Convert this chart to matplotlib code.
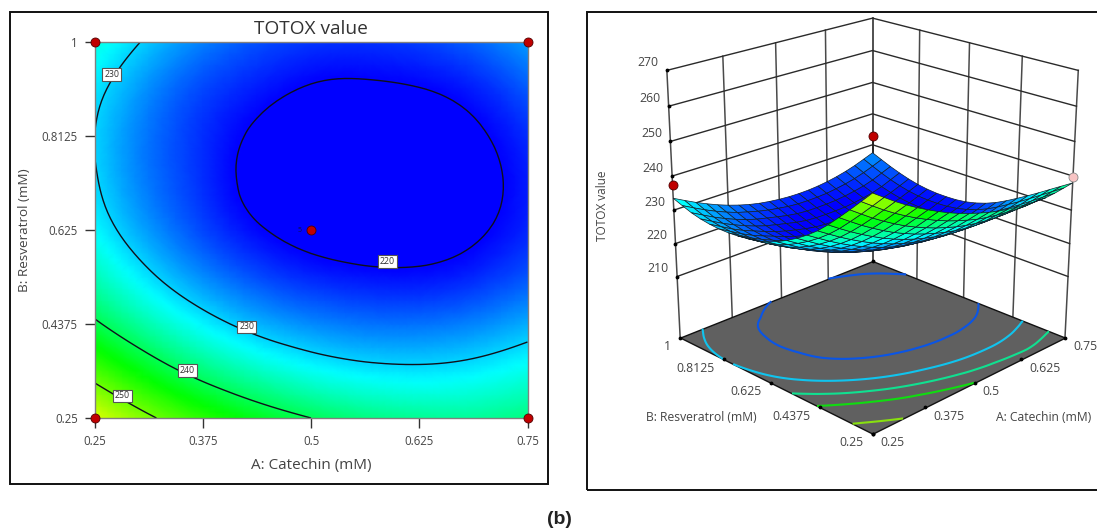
import numpy as np
import matplotlib
matplotlib.use("Agg")
import matplotlib.pyplot as plt
import matplotlib.tri as tri
from matplotlib.colors import LinearSegmentedColormap, Normalize
from matplotlib.patches import Rectangle
from mpl_toolkits.mplot3d import proj3d
from mpl_toolkits.mplot3d.art3d import Poly3DCollection

plt.rcParams['font.family'] = ['Open Sans', 'DejaVu Sans']

W, H = 1097, 529

# values, at the tick positions
catechin = [0.25, 0.3125, 0.375, 0.4375, 0.5, 0.5625, 0.625, 0.6875, 0.75]
resveratrol = [0.25, 0.34375, 0.4375, 0.53125, 0.625, 0.71875, 0.8125, 0.90625, 1.0]
totox = [
    [256.0, 250.7, 246.3, 242.7, 240.0, 238.1, 237.1, 236.9, 238.0],
    [248.0, 242.7, 238.3, 235.0, 232.6, 231.2, 230.8, 231.4, 233.0],
    [240.7, 235.8, 231.7, 228.6, 226.6, 225.5, 225.4, 226.3, 228.2],
    [235.5, 230.7, 226.7, 223.7, 221.8, 220.9, 220.8, 221.9, 224.1],
    [232.0, 227.3, 223.4, 220.4, 218.7, 217.9, 218.1, 219.4, 221.8],
    [230.4, 225.7, 222.2, 218.9, 217.3, 216.7, 217.0, 218.6, 221.3],
    [230.0, 225.5, 222.2, 219.4, 217.6, 217.1, 217.6, 219.3, 222.1],
    [231.0, 226.7, 223.4, 221.3, 219.7, 219.4, 219.9, 221.4, 224.3],
    [233.5, 229.4, 226.1, 223.8, 222.6, 222.3, 223.0, 224.7, 227.4],
]

x_ticks = [0.25, 0.375, 0.5, 0.625, 0.75]
y_ticks = [0.25, 0.4375, 0.625, 0.8125, 1.0]
x_labels = ['0.25', '0.375', '0.5', '0.625', '0.75']
y_labels = ['0.25', '0.4375', '0.625', '0.8125', '1']
z_ticks = [210, 220, 230, 240, 250, 260, 270]
z_floor = 191

levels_2d = [220, 230, 240, 250]
levels_floor = [223, 230, 235, 240, 250]
floor_colors = ['#0a55e6', '#10c4ee', '#10e090', '#10dc10', '#88e010']

label_a = [0.27, 0.426, 0.357, 0.282, 0.588]
label_b = [0.936, 0.4316, 0.344, 0.294, 0.563]
label_txt = ['230', '230', '240', '250', '220']

design_a = [0.25, 0.75, 0.25, 0.75, 0.5]
design_b = [1.0, 1.0, 0.25, 0.25, 0.625]

# 3d: design points above the surface
top_a = [0.25, 0.75]
top_b = [1.0, 1.0]
top_z = [237.5, 233.0]
right_a, right_b, right_z = 0.75, 0.25, 239.6
center_a, center_b, center_z = 0.5, 0.625, 220.5

dark_red = '#c00000'
txt_col = '#444444'

cmap = LinearSegmentedColormap.from_list(
    'totox', [(0, '#0000ff'), (0.316, '#00ffff'), (0.632, '#00ff00'), (1, '#ffff00')])
norm = Normalize(220, 258)

xx, yy = np.meshgrid(catechin, resveratrol)
zz = np.array(totox)
mesh = tri.Triangulation(xx.ravel(), yy.ravel())
# the table is only 9x9, the library's cubic refiner smooths it for drawing
tri_fine, z_fine = tri.UniformTriRefiner(mesh).refine_field(zz.ravel(), subdiv=3)
smooth = tri.CubicTriInterpolator(mesh, zz.ravel(), kind='geom')


def on_grid(n):
    xi = np.linspace(0.25 + 1e-6, 0.75 - 1e-6, n)
    yi = np.linspace(0.25 + 1e-6, 1.0 - 1e-6, n)
    gx, gy = np.meshgrid(xi, yi)
    return gx, gy, np.asarray(smooth(gx, gy))


def px_rect(x0, y0, x1, y1):
    return [x0 / W, 1 - y1 / H, (x1 - x0) / W, (y1 - y0) / H]


fig = plt.figure(figsize=(W / 100, H / 100), dpi=100)
for x0, y0, x1, y1 in [(10, 12, 548, 484), (587, 12, 1110, 490)]:
    fig.add_artist(Rectangle((x0 / W, 1 - y1 / H), (x1 - x0) / W, (y1 - y0) / H, fill=False,
                             ec='#111111', lw=1.4, transform=fig.transFigure))

# left panel
ax = fig.add_axes(px_rect(94.5, 42, 527.5, 418))
ax.tripcolor(tri_fine, z_fine, shading='gouraud', cmap=cmap, norm=norm, rasterized=True)
ax.tricontour(tri_fine, z_fine, levels=levels_2d, colors='#10101a', linewidths=1.0)
for a, b, t in zip(label_a, label_b, label_txt):
    ax.text(a, b, t, fontsize=6.3, color='#333333', ha='center', va='center', zorder=5,
            bbox=dict(boxstyle='square,pad=0.22', fc='white', ec='#555555', lw=0.8))
ax.plot(design_a, design_b, 'o', ms=6.5, color=dark_red, mec='#500000', mew=0.6, clip_on=False, zorder=6)
ax.text(0.4895, 0.625, '5', fontsize=5, color='#101040', ha='right', va='center', zorder=6)
ax.set_xlim(0.25, 0.75)
ax.set_ylim(0.25, 1.0)
ax.set_xticks(x_ticks, x_labels)
ax.set_yticks(y_ticks, y_labels)
ax.tick_params(length=7, width=1, color='#333333', labelcolor=txt_col, labelsize=8.3, pad=5)
for s in ax.spines.values():
    s.set_color('#808080')
    s.set_linewidth(1.0)
ax.set_title('TOTOX value', fontsize=13.8, color='#333333', pad=6)
fig.text(311 / W, 1 - 465 / H, 'A: Catechin (mM)', fontsize=11, color=txt_col, ha='center', va='center')
fig.text(25 / W, 1 - 230 / H, 'B: Resveratrol (mM)', fontsize=9.7, color=txt_col, ha='center', va='center',
         rotation=90)

# right panel
ax3 = fig.add_axes(px_rect(865 - 280, 216 - 280, 865 + 280, 216 + 280), projection='3d',
                   proj_type='persp', focal_length=0.52, computed_zorder=False)
ax3.set_xlim(0.25, 0.75)
ax3.set_ylim(0.25, 1.0)
ax3.set_zlim(z_floor, 270)
ax3.set_box_aspect((1, 1, 1.02), zoom=0.85)
ax3.view_init(elev=21.5, azim=-135)
ax3.set_axis_off()
ax3.patch.set_alpha(0)

grid_col = '#4a4a4a'
for t in x_ticks:
    ax3.plot([t, t], [1, 1], [z_floor, 270], color=grid_col, lw=1.1, zorder=1)
for t in y_ticks:
    ax3.plot([0.75, 0.75], [t, t], [z_floor, 270], color=grid_col, lw=1.1, zorder=1)
for z in z_ticks:
    ax3.plot([0.25, 0.75, 0.75], [1, 1, 0.25], [z, z, z], color='#2a2a2a', lw=1.0, zorder=1)
    ax3.plot([0.25], [1], [z], '.', color='k', ms=3.5, zorder=1)

floor = Poly3DCollection([[(0.25, 0.25, z_floor), (0.75, 0.25, z_floor), (0.75, 1, z_floor), (0.25, 1, z_floor)]],
                         facecolor='#606060', edgecolor='#111111', linewidth=1.0, zorder=2)
ax3.add_collection3d(floor)
gx, gy, gz = on_grid(81)
ax3.contour(gx, gy, gz, levels=levels_floor, colors=floor_colors, linewidths=1.5,
            zdir='z', offset=z_floor, zorder=3)
ax3.plot(x_ticks, [0.25] * 5, [z_floor] * 5, '.', color='k', ms=3.5, zorder=3)
ax3.plot([0.25] * 5, y_ticks, [z_floor] * 5, '.', color='k', ms=3.5, zorder=3)
ax3.plot([0.75], [1], [z_floor], '.', color='k', ms=3.5, zorder=3)

ax3.plot([center_a], [center_b], [center_z], 'o', ms=6, color=dark_red, mec='#400000', mew=0.5, zorder=4)
sx, sy, sz = on_grid(21)
ax3.plot_surface(sx, sy, sz, cmap=cmap, norm=norm, rstride=1, cstride=1, shade=False,
                 edgecolor='#10202a', linewidth=0.5, antialiased=True, zorder=5)
ax3.plot([0.75, 0.75], [1, 1], [227.5, 233.0], color='#222222', lw=1.2, zorder=6)
ax3.plot(top_a, top_b, top_z, 'o', ls='none', ms=6.5, color=dark_red, mec='#500000', mew=0.6, zorder=7)
ax3.plot([right_a], [right_b], [right_z], 'o', ms=6.5, color='#f8c4c4', mec='#888888', mew=0.6, zorder=7)


def label3d(x, y, z, s, dx, dy, ha):
    px, py, _ = proj3d.proj_transform(x, y, z, ax3.get_proj())
    ax3.annotate(s, (px, py), xytext=(dx, dy), textcoords='offset pixels', ha=ha, va='center',
                 fontsize=8.8, color=txt_col, annotation_clip=False)


for z in z_ticks:
    label3d(0.25, 1, z, str(z), -19, 8, 'center')
for t, s in zip(y_ticks, y_labels):
    label3d(0.25, t, z_floor, s, -9, -9, 'right')
for t, s in zip(x_ticks, x_labels):
    label3d(t, 0.25, z_floor, s, 8, -9, 'left')

fig.text(701 / W, 1 - 417.5 / H, 'B: Resveratrol (mM)', fontsize=8.7, color=txt_col, ha='center', va='center')
fig.text(1044 / W, 1 - 417.5 / H, 'A: Catechin (mM)', fontsize=8.7, color=txt_col, ha='center', va='center')
fig.text(603 / W, 1 - 206 / H, 'TOTOX value', fontsize=8.5, color=txt_col, ha='center', va='center', rotation=90)

fig.text(559 / W, 1 - 519 / H, '(b)', fontsize=14, fontweight='bold', family='Liberation Sans',
         color='#222222', ha='center', va='center')

fig.savefig('out.png', dpi=100)
